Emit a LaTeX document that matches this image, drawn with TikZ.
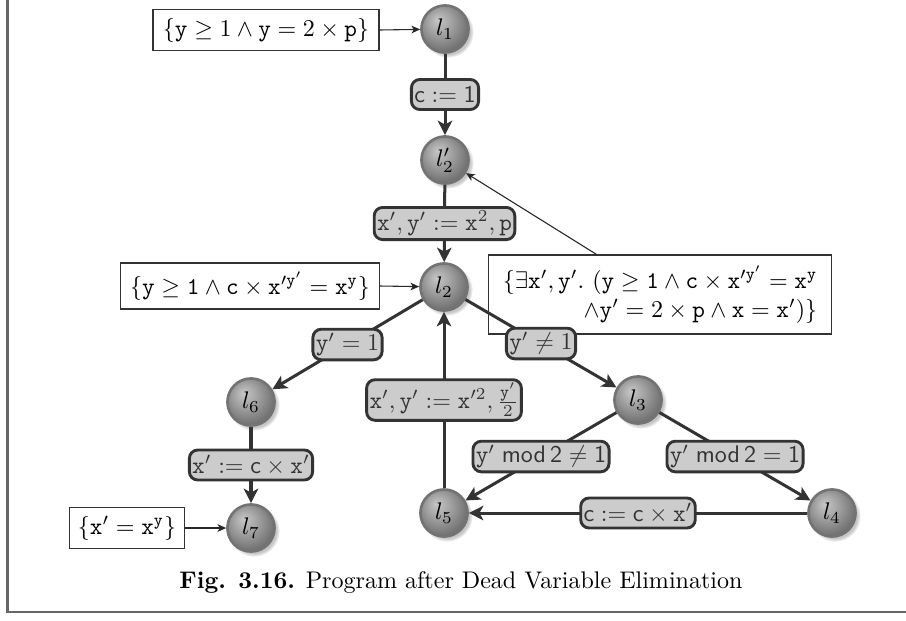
\documentclass[tikz,border=0pt]{standalone}
\usepackage{amsmath,amssymb}
\usetikzlibrary{shadows,arrows.meta}

% shading of the location balls: light top left, darker rim
\pgfdeclareradialshading{locball}{\pgfpoint{-8bp}{10bp}}{%
  color(0bp)=(black!22); color(14bp)=(black!38); color(30bp)=(black!58); color(50bp)=(black!70)}

\begin{document}
\begin{tikzpicture}[x=0.416pt,y=-0.416pt,
  loc/.style={circle, minimum size=19.6pt, inner sep=0pt, shading=locball,
    draw=black!55, line width=1.1pt,
    circular drop shadow={shadow xshift=1.1pt, shadow yshift=-1.1pt, opacity=0.45}},
  lbl/.style={rounded corners=3.5pt, fill=black!20, draw=black!80, line width=1.2pt,
    text=black!80, inner xsep=1.2pt, inner ysep=1.5pt, minimum height=12.5pt},
  edge/.style={draw=black!80, line width=1.25pt, -{Stealth[length=6pt,width=6pt,inset=1.6pt]}},
  note/.style={draw=black!85, line width=0.45pt, -{Stealth[length=3.6pt,width=3.2pt,inset=1pt]}},
  cond/.style={draw=black!80, line width=0.5pt, fill=white, inner sep=0pt}]

\useasboundingbox (0,0) rectangle (906,620);

% frame of the figure
\draw[black!60, line width=1pt] (7.5,0) -- (7.5,612) -- (906,612);

% invariants attached to locations (drawn first, transitions go over them)
\node[cond, minimum width=94pt, minimum height=17pt] (c1) at (266,30)
  {$\{\mathtt{y} \geq 1 \wedge \mathtt{y} = 2 \times \mathtt{p}\}$};
\node[cond, minimum width=107.7pt, minimum height=19.1pt] (c2) at (250,286)
  {$\{\mathtt{y} \geq \mathtt{1} \wedge \mathtt{c} \times \mathtt{x}'^{\mathtt{y}'} = \mathtt{x}^{\mathtt{y}}\}$};
\node[cond, minimum width=143pt, minimum height=32.9pt, align=right] (c3) at (660,294.5)
  {$\{\exists \mathtt{x}', \mathtt{y}'.\ (\mathtt{y} \geq \mathtt{1} \wedge \mathtt{c} \times \mathtt{x}'^{\mathtt{y}'} = \mathtt{x}^{\mathtt{y}}$\\
   $\wedge \mathtt{y}' = 2 \times \mathtt{p} \wedge \mathtt{x} = \mathtt{x}')\}$};
\node[cond, minimum width=47.8pt, minimum height=17pt] (c4) at (127,528)
  {$\{\mathtt{x}' = \mathtt{x}^{\mathtt{y}}\}$};

% locations
\node[loc] (l1)  at (445,29)  {$l_1$};
\node[loc] (l2p) at (445,160) {$l_2'$};
\node[loc] (l2)  at (444,287) {$l_2$};
\node[loc] (l6)  at (251,402) {$l_6$};
\node[loc] (l7)  at (251,528) {$l_7$};
\node[loc] (l5)  at (444,513) {$l_5$};
\node[loc] (l3)  at (638,400) {$l_3$};
\node[loc] (l4)  at (832,513) {$l_4$};

\draw[note] (c1.east) -- (l1);
\draw[note] (c2.east) -- (l2);
\draw[note] (c4.east) -- (l7);
\draw[note] ([xshift=45.3pt]c3.north west) -- (l2p);

% transitions
\draw[edge] (l1) -- node[lbl] {$\textsf{c} := \textsf{1}$} (l2p);
\draw[edge] (l2p) -- node[lbl] {$\mathtt{x}', \mathtt{y}' := \mathtt{x}^2, \mathtt{p}$} (l2);
\draw[edge] (l2) -- node[lbl] {$\mathtt{y}' = 1$} (l6);
\draw[edge] (l2) -- node[lbl] {$\mathtt{y}' \neq 1$} (l3);
\draw[edge] (l6) -- node[lbl] {$\mathtt{x}' := \textsf{c} \times \mathtt{x}'$} (l7);
\draw[edge] (l5) -- node[lbl] {$\mathtt{x}', \mathtt{y}' := \mathtt{x}'^2, \frac{\mathtt{y}'}{2}$} (l2);
\draw[edge] (l3) -- node[lbl] {$\mathtt{y}'\;\textsf{mod}\,\textsf{2} \neq \textsf{1}$} (l5);
\draw[edge] (l3) -- node[lbl] {$\mathtt{y}'\;\textsf{mod}\,\textsf{2} = \textsf{1}$} (l4);
\draw[edge] (l4) -- node[lbl] {$\textsf{c} := \textsf{c} \times \mathtt{x}'$} (l5);

% caption
\node[anchor=base] (cap) at (461,588)
  {\textbf{Fig. 3.16.} Program after Dead Variable Elimination};
\end{tikzpicture}
\end{document}
